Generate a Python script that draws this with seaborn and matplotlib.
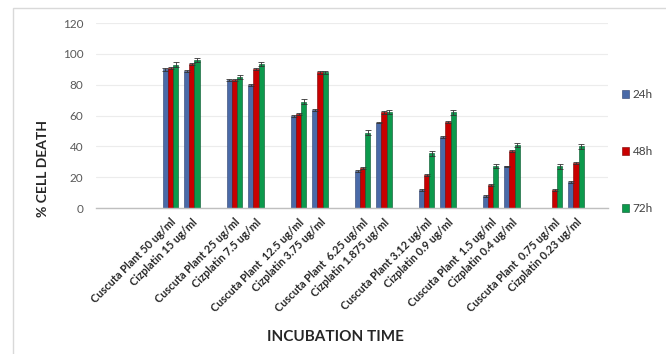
import numpy as np
import pandas as pd
import matplotlib
matplotlib.use("Agg")
import matplotlib.pyplot as plt
from matplotlib.patches import Rectangle, Patch
import seaborn as sns

sns.set_theme(style="white")
plt.rcParams['font.family'] = ['Lato', 'DejaVu Sans']

# treatment labels (pairs), in order
treatments = [
    "Cuscuta Plant 50 ug/ml", "Cizplatin 15 ug/ml",
    "Cuscuta Plant 25 ug/ml", "Cizplatin 7.5 ug/ml",
    "Cuscuta Plant  12.5 ug/ml", "Cizplatin 3.75 ug/ml",
    "Cuscuta Plant  6.25 ug/ml", "Cizplatin 1.875 ug/ml",
    "Cuscuta Plant 3.12 ug/ml", "Cizplatin 0.9 ug/ml",
    "Cuscuta Plant  1.5 ug/ml", "Cizplatin 0.4 ug/ml",
    "Cuscuta Plant  0.75 ug/ml", "Cizplatin 0.23 ug/ml",
]
times = ["24h", "48h", "72h"]

death_24h = [90, 89, 83, 80, 60, 63.5, 24, 55.5, 12, 46, 8, 27, 0, 17]
death_48h = [91, 93.5, 83, 90, 61, 88, 26, 62, 21.5, 56, 15, 37, 12, 29]
death_72h = [93, 96, 85, 93.5, 69, 88, 49, 62.5, 35.5, 62, 27.5, 41, 27, 40]

err_24h = [0.8, 0.8, 0.6, 0.6, 0.6, 0.6, 0.6, 0.6, 0.6, 0.6, 0.6, 0.6, 0.0, 0.6]
err_48h = [0.8, 0.8, 0.6, 0.6, 0.6, 0.8, 0.6, 0.8, 0.6, 0.6, 0.6, 0.6, 0.6, 0.6]
err_72h = [1.5, 1.5, 1.2, 1.2, 1.5, 1.2, 1.5, 1.2, 1.5, 1.5, 1.2, 1.2, 1.5, 1.8]

colors = {"24h": "#4a6aa8", "48h": "#c80000", "72h": "#0c9a4c"}
edges = {"24h": "#2b3f6b", "48h": "#7a0000", "72h": "#05502a"}

# category axis: 3 blank slots, then pairs separated by a blank slot, 1 blank at end
cats = [" " * 1, " " * 2, " " * 3]
blank_n = 4
for i in range(0, len(treatments), 2):
    cats += [treatments[i], treatments[i + 1]]
    if i + 2 < len(treatments):
        cats.append(" " * blank_n)
        blank_n += 1
cats.append(" " * blank_n)

rows = []
for t, vals, errs in zip(times, [death_24h, death_48h, death_72h], [err_24h, err_48h, err_72h]):
    for name, v, e in zip(treatments, vals, errs):
        rows.append({"cat": name, "time": t, "val": v, "err": e})
df = pd.DataFrame(rows)

fig = plt.figure(figsize=(6.66, 3.54), dpi=100)
ax = fig.add_axes([0.144, 0.412, 0.769, 0.523])

sns.barplot(data=df, x="cat", y="val", hue="time", order=cats, hue_order=times,
            palette=colors, width=0.72, errorbar=None, legend=False, ax=ax,
            saturation=1)

# colour edges and add error bars from the bars seaborn drew
for t, cont in zip(times, ax.containers):
    sub = df[df["time"] == t].set_index("cat")
    xs, ys, es = [], [], []
    for bar in cont:
        bar.set_edgecolor(edges[t])
        bar.set_linewidth(0.4)
        cx = bar.get_x() + bar.get_width() / 2
        name = cats[int(round(cx))]
        v = sub.loc[name, "val"]
        if v > 0:
            xs.append(cx)
            ys.append(v)
            es.append(sub.loc[name, "err"])
    ax.errorbar(xs, ys, yerr=es, fmt="none", ecolor="#333333", elinewidth=0.6,
                capsize=2, capthick=0.6, zorder=5)

ax.set_ylim(0, 120)
ax.set_yticks(range(0, 121, 20))
ax.set_xlim(-0.5, len(cats) - 0.5)
ax.yaxis.grid(True, color="#ececec", linewidth=0.8)
ax.set_axisbelow(True)
for s in ["top", "right", "left"]:
    ax.spines[s].set_visible(False)
ax.spines["bottom"].set_color("#bfbfbf")
ax.spines["bottom"].set_linewidth(1.0)
ax.tick_params(axis="y", length=0, labelsize=8.5, labelcolor="#595959", pad=9)
ax.tick_params(axis="x", length=0, pad=6)
ax.set_xticks(range(len(cats)))
ax.set_xticklabels(cats, rotation=45, ha="right", rotation_mode="anchor",
                   fontsize=7.9, fontweight="bold", color="#262626")

ax.set_xlabel("")
ax.set_ylabel("")
fig.text(0.065, 0.525, "% CELL DEATH", rotation=90, ha="center", va="center",
         fontsize=10, fontweight="bold", color="#262626")
fig.text(0.503, 0.048, "INCUBATION TIME", ha="center", va="center",
         fontsize=11, fontweight="bold", color="#262626")

handles = [Patch(facecolor=colors[t], edgecolor=edges[t], linewidth=0.4) for t in times]
leg = fig.legend(handles, times, loc="center left", bbox_to_anchor=(0.918, 0.572),
                 frameon=False, fontsize=8.5, labelspacing=3.9, handlelength=0.6,
                 handleheight=0.6, handletextpad=0.3)
for txt in leg.get_texts():
    txt.set_color("#404040")

# light outer frame of the chart area
fig.patches.append(Rectangle((0.02, -0.05), 1.2, 1.027, transform=fig.transFigure,
                             fill=False, edgecolor="#d9d9d9", linewidth=1.0))

fig.savefig("out.png", dpi=100)
